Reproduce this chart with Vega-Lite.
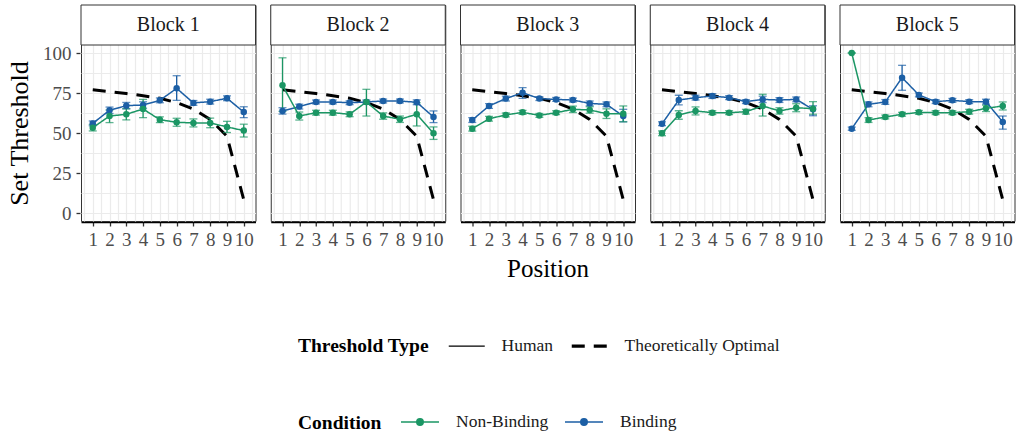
{
  "$schema": "https://vega.github.io/schema/vega-lite/v6.json",
  "padding": {"left": 6, "top": 4, "right": 0, "bottom": 0},
  "background": "white",
  "data": {"values": [
    {"block":"Block 1","position":1,"condition":"Binding","type":"Human","threshold":56.0,"lower":54.5,"upper":57.5},
    {"block":"Block 1","position":2,"condition":"Binding","type":"Human","threshold":64.2,"lower":62.2,"upper":66.2},
    {"block":"Block 1","position":3,"condition":"Binding","type":"Human","threshold":67.1,"lower":65.1,"upper":69.1},
    {"block":"Block 1","position":4,"condition":"Binding","type":"Human","threshold":67.5,"lower":65.5,"upper":69.5},
    {"block":"Block 1","position":5,"condition":"Binding","type":"Human","threshold":70.4,"lower":68.9,"upper":71.9},
    {"block":"Block 1","position":6,"condition":"Binding","type":"Human","threshold":77.9,"lower":70.4,"upper":85.8},
    {"block":"Block 1","position":7,"condition":"Binding","type":"Human","threshold":68.8,"lower":67.3,"upper":70.3},
    {"block":"Block 1","position":8,"condition":"Binding","type":"Human","threshold":69.6,"lower":68.1,"upper":71.1},
    {"block":"Block 1","position":9,"condition":"Binding","type":"Human","threshold":71.7,"lower":70.2,"upper":73.2},
    {"block":"Block 1","position":10,"condition":"Binding","type":"Human","threshold":63.1,"lower":59.6,"upper":66.4},
    {"block":"Block 1","position":1,"condition":"Non-Binding","type":"Human","threshold":53.3,"lower":51.3,"upper":55.3},
    {"block":"Block 1","position":2,"condition":"Non-Binding","type":"Human","threshold":60.6,"lower":56.5,"upper":64.4},
    {"block":"Block 1","position":3,"condition":"Non-Binding","type":"Human","threshold":61.7,"lower":58.2,"upper":65.2},
    {"block":"Block 1","position":4,"condition":"Non-Binding","type":"Human","threshold":65.0,"lower":59.6,"upper":71.0},
    {"block":"Block 1","position":5,"condition":"Non-Binding","type":"Human","threshold":58.3,"lower":56.5,"upper":60.1},
    {"block":"Block 1","position":6,"condition":"Non-Binding","type":"Human","threshold":56.7,"lower":54.2,"upper":59.2},
    {"block":"Block 1","position":7,"condition":"Non-Binding","type":"Human","threshold":56.3,"lower":53.8,"upper":58.8},
    {"block":"Block 1","position":8,"condition":"Non-Binding","type":"Human","threshold":56.3,"lower":53.3,"upper":59.3},
    {"block":"Block 1","position":9,"condition":"Non-Binding","type":"Human","threshold":53.8,"lower":50.3,"upper":57.3},
    {"block":"Block 1","position":10,"condition":"Non-Binding","type":"Human","threshold":51.5,"lower":47.5,"upper":55.5},
    {"block":"Block 2","position":1,"condition":"Binding","type":"Human","threshold":63.8,"lower":61.8,"upper":65.8},
    {"block":"Block 2","position":2,"condition":"Binding","type":"Human","threshold":66.5,"lower":65.0,"upper":68.0},
    {"block":"Block 2","position":3,"condition":"Binding","type":"Human","threshold":69.4,"lower":68.2,"upper":70.6},
    {"block":"Block 2","position":4,"condition":"Binding","type":"Human","threshold":69.4,"lower":68.2,"upper":70.6},
    {"block":"Block 2","position":5,"condition":"Binding","type":"Human","threshold":68.9,"lower":67.7,"upper":70.1},
    {"block":"Block 2","position":6,"condition":"Binding","type":"Human","threshold":69.4,"lower":68.2,"upper":70.6},
    {"block":"Block 2","position":7,"condition":"Binding","type":"Human","threshold":70.0,"lower":68.8,"upper":71.2},
    {"block":"Block 2","position":8,"condition":"Binding","type":"Human","threshold":70.0,"lower":68.8,"upper":71.2},
    {"block":"Block 2","position":9,"condition":"Binding","type":"Human","threshold":69.2,"lower":67.7,"upper":70.7},
    {"block":"Block 2","position":10,"condition":"Binding","type":"Human","threshold":60.0,"lower":56.5,"upper":63.8},
    {"block":"Block 2","position":1,"condition":"Non-Binding","type":"Human","threshold":79.8,"lower":63.5,"upper":97.0},
    {"block":"Block 2","position":2,"condition":"Non-Binding","type":"Human","threshold":60.6,"lower":58.1,"upper":63.1},
    {"block":"Block 2","position":3,"condition":"Non-Binding","type":"Human","threshold":62.7,"lower":61.2,"upper":64.2},
    {"block":"Block 2","position":4,"condition":"Non-Binding","type":"Human","threshold":62.7,"lower":61.2,"upper":64.2},
    {"block":"Block 2","position":5,"condition":"Non-Binding","type":"Human","threshold":61.7,"lower":60.2,"upper":63.2},
    {"block":"Block 2","position":6,"condition":"Non-Binding","type":"Human","threshold":69.4,"lower":60.6,"upper":77.3},
    {"block":"Block 2","position":7,"condition":"Non-Binding","type":"Human","threshold":60.6,"lower":58.6,"upper":62.6},
    {"block":"Block 2","position":8,"condition":"Non-Binding","type":"Human","threshold":58.6,"lower":56.6,"upper":60.6},
    {"block":"Block 2","position":9,"condition":"Non-Binding","type":"Human","threshold":61.7,"lower":54.4,"upper":68.9},
    {"block":"Block 2","position":10,"condition":"Non-Binding","type":"Human","threshold":49.8,"lower":46.0,"upper":53.8},
    {"block":"Block 3","position":1,"condition":"Binding","type":"Human","threshold":58.1,"lower":56.6,"upper":59.6},
    {"block":"Block 3","position":2,"condition":"Binding","type":"Human","threshold":66.9,"lower":65.4,"upper":68.4},
    {"block":"Block 3","position":3,"condition":"Binding","type":"Human","threshold":71.5,"lower":70.0,"upper":73.0},
    {"block":"Block 3","position":4,"condition":"Binding","type":"Human","threshold":75.2,"lower":71.7,"upper":78.3},
    {"block":"Block 3","position":5,"condition":"Binding","type":"Human","threshold":71.5,"lower":70.3,"upper":72.7},
    {"block":"Block 3","position":6,"condition":"Binding","type":"Human","threshold":71.0,"lower":69.8,"upper":72.2},
    {"block":"Block 3","position":7,"condition":"Binding","type":"Human","threshold":70.6,"lower":69.4,"upper":71.8},
    {"block":"Block 3","position":8,"condition":"Binding","type":"Human","threshold":68.5,"lower":67.0,"upper":70.0},
    {"block":"Block 3","position":9,"condition":"Binding","type":"Human","threshold":67.9,"lower":66.4,"upper":69.4},
    {"block":"Block 3","position":10,"condition":"Binding","type":"Human","threshold":60.6,"lower":57.0,"upper":64.8},
    {"block":"Block 3","position":1,"condition":"Non-Binding","type":"Human","threshold":52.7,"lower":51.2,"upper":54.2},
    {"block":"Block 3","position":2,"condition":"Non-Binding","type":"Human","threshold":58.9,"lower":57.4,"upper":60.4},
    {"block":"Block 3","position":3,"condition":"Non-Binding","type":"Human","threshold":61.3,"lower":60.1,"upper":62.5},
    {"block":"Block 3","position":4,"condition":"Non-Binding","type":"Human","threshold":62.9,"lower":61.7,"upper":64.1},
    {"block":"Block 3","position":5,"condition":"Non-Binding","type":"Human","threshold":61.0,"lower":59.8,"upper":62.2},
    {"block":"Block 3","position":6,"condition":"Non-Binding","type":"Human","threshold":62.7,"lower":61.5,"upper":63.9},
    {"block":"Block 3","position":7,"condition":"Non-Binding","type":"Human","threshold":64.8,"lower":62.8,"upper":66.8},
    {"block":"Block 3","position":8,"condition":"Non-Binding","type":"Human","threshold":64.4,"lower":62.4,"upper":66.4},
    {"block":"Block 3","position":9,"condition":"Non-Binding","type":"Human","threshold":62.1,"lower":59.1,"upper":65.1},
    {"block":"Block 3","position":10,"condition":"Non-Binding","type":"Human","threshold":62.1,"lower":57.0,"upper":66.9},
    {"block":"Block 4","position":1,"condition":"Binding","type":"Human","threshold":55.8,"lower":54.6,"upper":57.0},
    {"block":"Block 4","position":2,"condition":"Binding","type":"Human","threshold":70.6,"lower":67.6,"upper":73.6},
    {"block":"Block 4","position":3,"condition":"Binding","type":"Human","threshold":72.1,"lower":70.6,"upper":73.6},
    {"block":"Block 4","position":4,"condition":"Binding","type":"Human","threshold":73.1,"lower":71.6,"upper":74.6},
    {"block":"Block 4","position":5,"condition":"Binding","type":"Human","threshold":72.1,"lower":70.9,"upper":73.3},
    {"block":"Block 4","position":6,"condition":"Binding","type":"Human","threshold":69.6,"lower":68.4,"upper":70.8},
    {"block":"Block 4","position":7,"condition":"Binding","type":"Human","threshold":71.0,"lower":69.0,"upper":73.0},
    {"block":"Block 4","position":8,"condition":"Binding","type":"Human","threshold":70.6,"lower":69.1,"upper":72.1},
    {"block":"Block 4","position":9,"condition":"Binding","type":"Human","threshold":71.0,"lower":69.5,"upper":72.5},
    {"block":"Block 4","position":10,"condition":"Binding","type":"Human","threshold":64.8,"lower":60.8,"upper":67.0},
    {"block":"Block 4","position":1,"condition":"Non-Binding","type":"Human","threshold":49.8,"lower":48.3,"upper":51.3},
    {"block":"Block 4","position":2,"condition":"Non-Binding","type":"Human","threshold":61.3,"lower":58.6,"upper":63.9},
    {"block":"Block 4","position":3,"condition":"Non-Binding","type":"Human","threshold":63.8,"lower":61.3,"upper":66.3},
    {"block":"Block 4","position":4,"condition":"Non-Binding","type":"Human","threshold":62.7,"lower":61.5,"upper":63.9},
    {"block":"Block 4","position":5,"condition":"Non-Binding","type":"Human","threshold":62.7,"lower":61.5,"upper":63.9},
    {"block":"Block 4","position":6,"condition":"Non-Binding","type":"Human","threshold":63.3,"lower":61.8,"upper":64.8},
    {"block":"Block 4","position":7,"condition":"Non-Binding","type":"Human","threshold":66.9,"lower":60.6,"upper":74.2},
    {"block":"Block 4","position":8,"condition":"Non-Binding","type":"Human","threshold":63.8,"lower":61.8,"upper":65.8},
    {"block":"Block 4","position":9,"condition":"Non-Binding","type":"Human","threshold":65.8,"lower":63.3,"upper":68.3},
    {"block":"Block 4","position":10,"condition":"Non-Binding","type":"Human","threshold":65.2,"lower":61.7,"upper":69.6},
    {"block":"Block 5","position":1,"condition":"Binding","type":"Human","threshold":52.7,"lower":51.7,"upper":53.7},
    {"block":"Block 5","position":2,"condition":"Binding","type":"Human","threshold":67.9,"lower":66.4,"upper":69.4},
    {"block":"Block 5","position":3,"condition":"Binding","type":"Human","threshold":69.4,"lower":67.9,"upper":70.9},
    {"block":"Block 5","position":4,"condition":"Binding","type":"Human","threshold":84.6,"lower":76.7,"upper":92.3},
    {"block":"Block 5","position":5,"condition":"Binding","type":"Human","threshold":73.8,"lower":72.6,"upper":75.0},
    {"block":"Block 5","position":6,"condition":"Binding","type":"Human","threshold":69.6,"lower":68.4,"upper":70.8},
    {"block":"Block 5","position":7,"condition":"Binding","type":"Human","threshold":70.4,"lower":69.2,"upper":71.6},
    {"block":"Block 5","position":8,"condition":"Binding","type":"Human","threshold":69.6,"lower":68.4,"upper":70.8},
    {"block":"Block 5","position":9,"condition":"Binding","type":"Human","threshold":69.6,"lower":68.1,"upper":71.1},
    {"block":"Block 5","position":10,"condition":"Binding","type":"Human","threshold":56.9,"lower":52.4,"upper":60.6},
    {"block":"Block 5","position":1,"condition":"Non-Binding","type":"Human","threshold":100.0,"lower":100.0,"upper":100.0},
    {"block":"Block 5","position":2,"condition":"Non-Binding","type":"Human","threshold":58.1,"lower":56.6,"upper":59.6},
    {"block":"Block 5","position":3,"condition":"Non-Binding","type":"Human","threshold":60.0,"lower":58.8,"upper":61.2},
    {"block":"Block 5","position":4,"condition":"Non-Binding","type":"Human","threshold":61.7,"lower":60.5,"upper":62.9},
    {"block":"Block 5","position":5,"condition":"Non-Binding","type":"Human","threshold":62.9,"lower":61.7,"upper":64.1},
    {"block":"Block 5","position":6,"condition":"Non-Binding","type":"Human","threshold":62.7,"lower":61.5,"upper":63.9},
    {"block":"Block 5","position":7,"condition":"Non-Binding","type":"Human","threshold":62.7,"lower":61.5,"upper":63.9},
    {"block":"Block 5","position":8,"condition":"Non-Binding","type":"Human","threshold":63.3,"lower":61.8,"upper":64.8},
    {"block":"Block 5","position":9,"condition":"Non-Binding","type":"Human","threshold":65.4,"lower":63.4,"upper":67.4},
    {"block":"Block 5","position":10,"condition":"Non-Binding","type":"Human","threshold":66.9,"lower":64.4,"upper":69.4},
    {"block":"Block 1","position":1,"condition":"Optimal","type":"Theoretically Optimal","threshold":77.0},
    {"block":"Block 1","position":2,"condition":"Optimal","type":"Theoretically Optimal","threshold":75.9},
    {"block":"Block 1","position":3,"condition":"Optimal","type":"Theoretically Optimal","threshold":74.7},
    {"block":"Block 1","position":4,"condition":"Optimal","type":"Theoretically Optimal","threshold":73.3},
    {"block":"Block 1","position":5,"condition":"Optimal","type":"Theoretically Optimal","threshold":71.7},
    {"block":"Block 1","position":6,"condition":"Optimal","type":"Theoretically Optimal","threshold":69.0},
    {"block":"Block 1","position":7,"condition":"Optimal","type":"Theoretically Optimal","threshold":65.0},
    {"block":"Block 1","position":8,"condition":"Optimal","type":"Theoretically Optimal","threshold":58.5},
    {"block":"Block 1","position":9,"condition":"Optimal","type":"Theoretically Optimal","threshold":48.0},
    {"block":"Block 1","position":10,"condition":"Optimal","type":"Theoretically Optimal","threshold":8.3},
    {"block":"Block 2","position":1,"condition":"Optimal","type":"Theoretically Optimal","threshold":77.0},
    {"block":"Block 2","position":2,"condition":"Optimal","type":"Theoretically Optimal","threshold":75.9},
    {"block":"Block 2","position":3,"condition":"Optimal","type":"Theoretically Optimal","threshold":74.7},
    {"block":"Block 2","position":4,"condition":"Optimal","type":"Theoretically Optimal","threshold":73.3},
    {"block":"Block 2","position":5,"condition":"Optimal","type":"Theoretically Optimal","threshold":71.7},
    {"block":"Block 2","position":6,"condition":"Optimal","type":"Theoretically Optimal","threshold":69.0},
    {"block":"Block 2","position":7,"condition":"Optimal","type":"Theoretically Optimal","threshold":65.0},
    {"block":"Block 2","position":8,"condition":"Optimal","type":"Theoretically Optimal","threshold":58.5},
    {"block":"Block 2","position":9,"condition":"Optimal","type":"Theoretically Optimal","threshold":48.0},
    {"block":"Block 2","position":10,"condition":"Optimal","type":"Theoretically Optimal","threshold":8.3},
    {"block":"Block 3","position":1,"condition":"Optimal","type":"Theoretically Optimal","threshold":77.0},
    {"block":"Block 3","position":2,"condition":"Optimal","type":"Theoretically Optimal","threshold":75.9},
    {"block":"Block 3","position":3,"condition":"Optimal","type":"Theoretically Optimal","threshold":74.7},
    {"block":"Block 3","position":4,"condition":"Optimal","type":"Theoretically Optimal","threshold":73.3},
    {"block":"Block 3","position":5,"condition":"Optimal","type":"Theoretically Optimal","threshold":71.7},
    {"block":"Block 3","position":6,"condition":"Optimal","type":"Theoretically Optimal","threshold":69.0},
    {"block":"Block 3","position":7,"condition":"Optimal","type":"Theoretically Optimal","threshold":65.0},
    {"block":"Block 3","position":8,"condition":"Optimal","type":"Theoretically Optimal","threshold":58.5},
    {"block":"Block 3","position":9,"condition":"Optimal","type":"Theoretically Optimal","threshold":48.0},
    {"block":"Block 3","position":10,"condition":"Optimal","type":"Theoretically Optimal","threshold":8.3},
    {"block":"Block 4","position":1,"condition":"Optimal","type":"Theoretically Optimal","threshold":77.0},
    {"block":"Block 4","position":2,"condition":"Optimal","type":"Theoretically Optimal","threshold":75.9},
    {"block":"Block 4","position":3,"condition":"Optimal","type":"Theoretically Optimal","threshold":74.7},
    {"block":"Block 4","position":4,"condition":"Optimal","type":"Theoretically Optimal","threshold":73.3},
    {"block":"Block 4","position":5,"condition":"Optimal","type":"Theoretically Optimal","threshold":71.7},
    {"block":"Block 4","position":6,"condition":"Optimal","type":"Theoretically Optimal","threshold":69.0},
    {"block":"Block 4","position":7,"condition":"Optimal","type":"Theoretically Optimal","threshold":65.0},
    {"block":"Block 4","position":8,"condition":"Optimal","type":"Theoretically Optimal","threshold":58.5},
    {"block":"Block 4","position":9,"condition":"Optimal","type":"Theoretically Optimal","threshold":48.0},
    {"block":"Block 4","position":10,"condition":"Optimal","type":"Theoretically Optimal","threshold":8.3},
    {"block":"Block 5","position":1,"condition":"Optimal","type":"Theoretically Optimal","threshold":77.0},
    {"block":"Block 5","position":2,"condition":"Optimal","type":"Theoretically Optimal","threshold":75.9},
    {"block":"Block 5","position":3,"condition":"Optimal","type":"Theoretically Optimal","threshold":74.7},
    {"block":"Block 5","position":4,"condition":"Optimal","type":"Theoretically Optimal","threshold":73.3},
    {"block":"Block 5","position":5,"condition":"Optimal","type":"Theoretically Optimal","threshold":71.7},
    {"block":"Block 5","position":6,"condition":"Optimal","type":"Theoretically Optimal","threshold":69.0},
    {"block":"Block 5","position":7,"condition":"Optimal","type":"Theoretically Optimal","threshold":65.0},
    {"block":"Block 5","position":8,"condition":"Optimal","type":"Theoretically Optimal","threshold":58.5},
    {"block":"Block 5","position":9,"condition":"Optimal","type":"Theoretically Optimal","threshold":48.0},
    {"block":"Block 5","position":10,"condition":"Optimal","type":"Theoretically Optimal","threshold":8.3}
  ]},
  "facet": {"column": {"field": "block", "type": "nominal", "header": {"labels": false, "title": "Position", "titleOrient": "bottom", "titleFont": "Liberation Serif", "titleFontSize": 25, "titleFontWeight": "normal", "titleColor": "black", "titlePadding": -2}}},
  "spacing": 12.75,
  "spec": {
    "width": 174.5,
    "height": 216,
    "encoding": {
      "x": {
        "field": "position", "type": "quantitative",
        "scale": {"domain": [0.3, 10.7], "nice": false, "zero": false},
        "title": null,
        "axis": {
          "values": [0.5, 1, 1.5, 2, 2.5, 3, 3.5, 4, 4.5, 5, 5.5, 6, 6.5, 7, 7.5, 8, 8.5, 9, 9.5, 10, 10.5],
          "labelExpr": "datum.value % 1 == 0 ? format(datum.value, 'd') : ''",
          "tickOpacity": {"condition": {"test": "datum.value % 1 == 0", "value": 1}, "value": 0},
          "labelOverlap": false,
          "domain": true, "domainColor": "black", "domainWidth": 1.6,
          "labelPadding": 4
        }
      },
      "y": {
        "field": "threshold", "type": "quantitative",
        "scale": {"domain": [-5, 130], "nice": false, "zero": false},
        "title": "Set Threshold",
        "axis": {
          "values": [0, 12.5, 25, 37.5, 50, 62.5, 75, 87.5, 100],
          "labelExpr": "datum.value % 25 == 0 ? datum.label : ''",
          "tickOpacity": {"condition": {"test": "datum.value % 25 == 0", "value": 1}, "value": 0},
          "domain": false, "titleY": 128, "labelPadding": 5, "titlePadding": 10
        }
      }
    },
    "layer": [
      {
        "transform": [{"filter": "datum.position == 1 && datum.type == 'Theoretically Optimal'"}],
        "mark": {"type": "rect", "fill": "white", "stroke": "#333333", "strokeWidth": 1},
        "encoding": {
          "x": {"datum": 0.3, "type": "quantitative"},
          "x2": {"datum": 10.7},
          "y": {"datum": 105, "type": "quantitative"},
          "y2": {"datum": 130}
        }
      },
      {
        "transform": [{"filter": "datum.position == 1 && datum.type == 'Theoretically Optimal'"}],
        "mark": {"type": "text", "font": "Liberation Serif", "fontSize": 20, "color": "#1a1a1a"},
        "encoding": {
          "x": {"datum": 5.5, "type": "quantitative"},
          "y": {"datum": 117.5, "type": "quantitative"},
          "text": {"field": "block", "type": "nominal"}
        }
      },
      {
        "transform": [{"filter": "datum.type == 'Theoretically Optimal'"}],
        "mark": {"type": "line", "color": "black", "strokeWidth": 3},
        "encoding": {
          "strokeDash": {
            "field": "type", "type": "nominal",
            "scale": {"domain": ["Human", "Theoretically Optimal"], "range": [[1, 0], [13, 9]]},
            "legend": {
              "title": "Threshold Type", "orient": "none", "legendX": 217, "legendY": 332,
              "direction": "horizontal", "titleOrient": "left", "titleAnchor": "middle", "titleBaseline": "middle",
              "symbolType": "stroke",
              "symbolSize": 1296, "symbolStrokeColor": "black", "labelOffset": 26,
              "columnPadding": 11, "titlePadding": 29, "labelLimit": 400,
              "encode": {"symbols": {"update": {"strokeWidth": {"signal": "datum.value == 'Human' ? 1.3 : 3.2"}}}}
            }
          }
        }
      },
      {
        "transform": [{"filter": "datum.type == 'Human'"}],
        "mark": {"type": "errorbar", "ticks": {"size": 8}, "thickness": 1.3},
        "encoding": {
          "y": {"field": "lower", "type": "quantitative", "title": "Set Threshold"},
          "y2": {"field": "upper"},
          "color": {"field": "condition", "type": "nominal", "scale": {"domain": ["Non-Binding", "Binding"], "range": ["#1b9664", "#1c5fa5"]}}
        }
      },
      {
        "transform": [{"filter": "datum.type == 'Human'"}],
        "mark": {"type": "line", "strokeWidth": 1.5},
        "encoding": {
          "color": {"field": "condition", "type": "nominal", "scale": {"domain": ["Non-Binding", "Binding"], "range": ["#1b9664", "#1c5fa5"]}},
          "strokeDash": {"field": "type", "type": "nominal"}
        }
      },
      {
        "transform": [{"filter": "datum.type == 'Human'"}],
        "mark": {"type": "point", "filled": true, "size": 42, "opacity": 1},
        "encoding": {
          "color": {
            "field": "condition", "type": "nominal",
            "scale": {"domain": ["Non-Binding", "Binding"], "range": ["#1b9664", "#1c5fa5"]},
            "legend": {
              "title": "Condition", "orient": "none", "legendX": 217, "legendY": 397,
              "direction": "horizontal", "titleOrient": "left", "titleAnchor": "middle", "titleBaseline": "middle",
              "symbolType": "M0,-1L0,-1M0,1L0,1M-1,0L1,0M0.17,0A0.17,0.17,0,1,1,-0.17,0A0.17,0.17,0,1,1,0.17,0Z",
              "symbolSize": 1444, "symbolStrokeWidth": 1.5, "symbolOpacity": 1, "labelOffset": 16,
              "columnPadding": 13, "titlePadding": 18, "labelLimit": 400,
              "encode": {"symbols": {"update": {"opacity": {"value": 1}, "fillOpacity": {"value": 1}, "strokeOpacity": {"value": 1}}}}
            }
          }
        }
      }
    ]
  },
  "config": {
    "font": "Liberation Serif",
    "view": {"stroke": "#333333", "strokeWidth": 1},
    "axis": {
      "labelFont": "Liberation Serif", "labelFontSize": 19, "labelColor": "#4d4d4d",
      "titleFont": "Liberation Serif", "titleFontSize": 26, "titleFontWeight": "normal", "titleColor": "black",
      "tickColor": "#333333", "tickSize": 4, "tickWidth": 1.3, "gridColor": "#ebebeb", "gridWidth": 1.2, "grid": true
    },
    "legend": {
      "titleFont": "Liberation Serif", "titleFontSize": 19.5, "titleFontWeight": "bold", "titleColor": "black",
      "labelFont": "Liberation Serif", "labelFontSize": 17.5, "labelColor": "#1a1a1a"
    }
  }
}
